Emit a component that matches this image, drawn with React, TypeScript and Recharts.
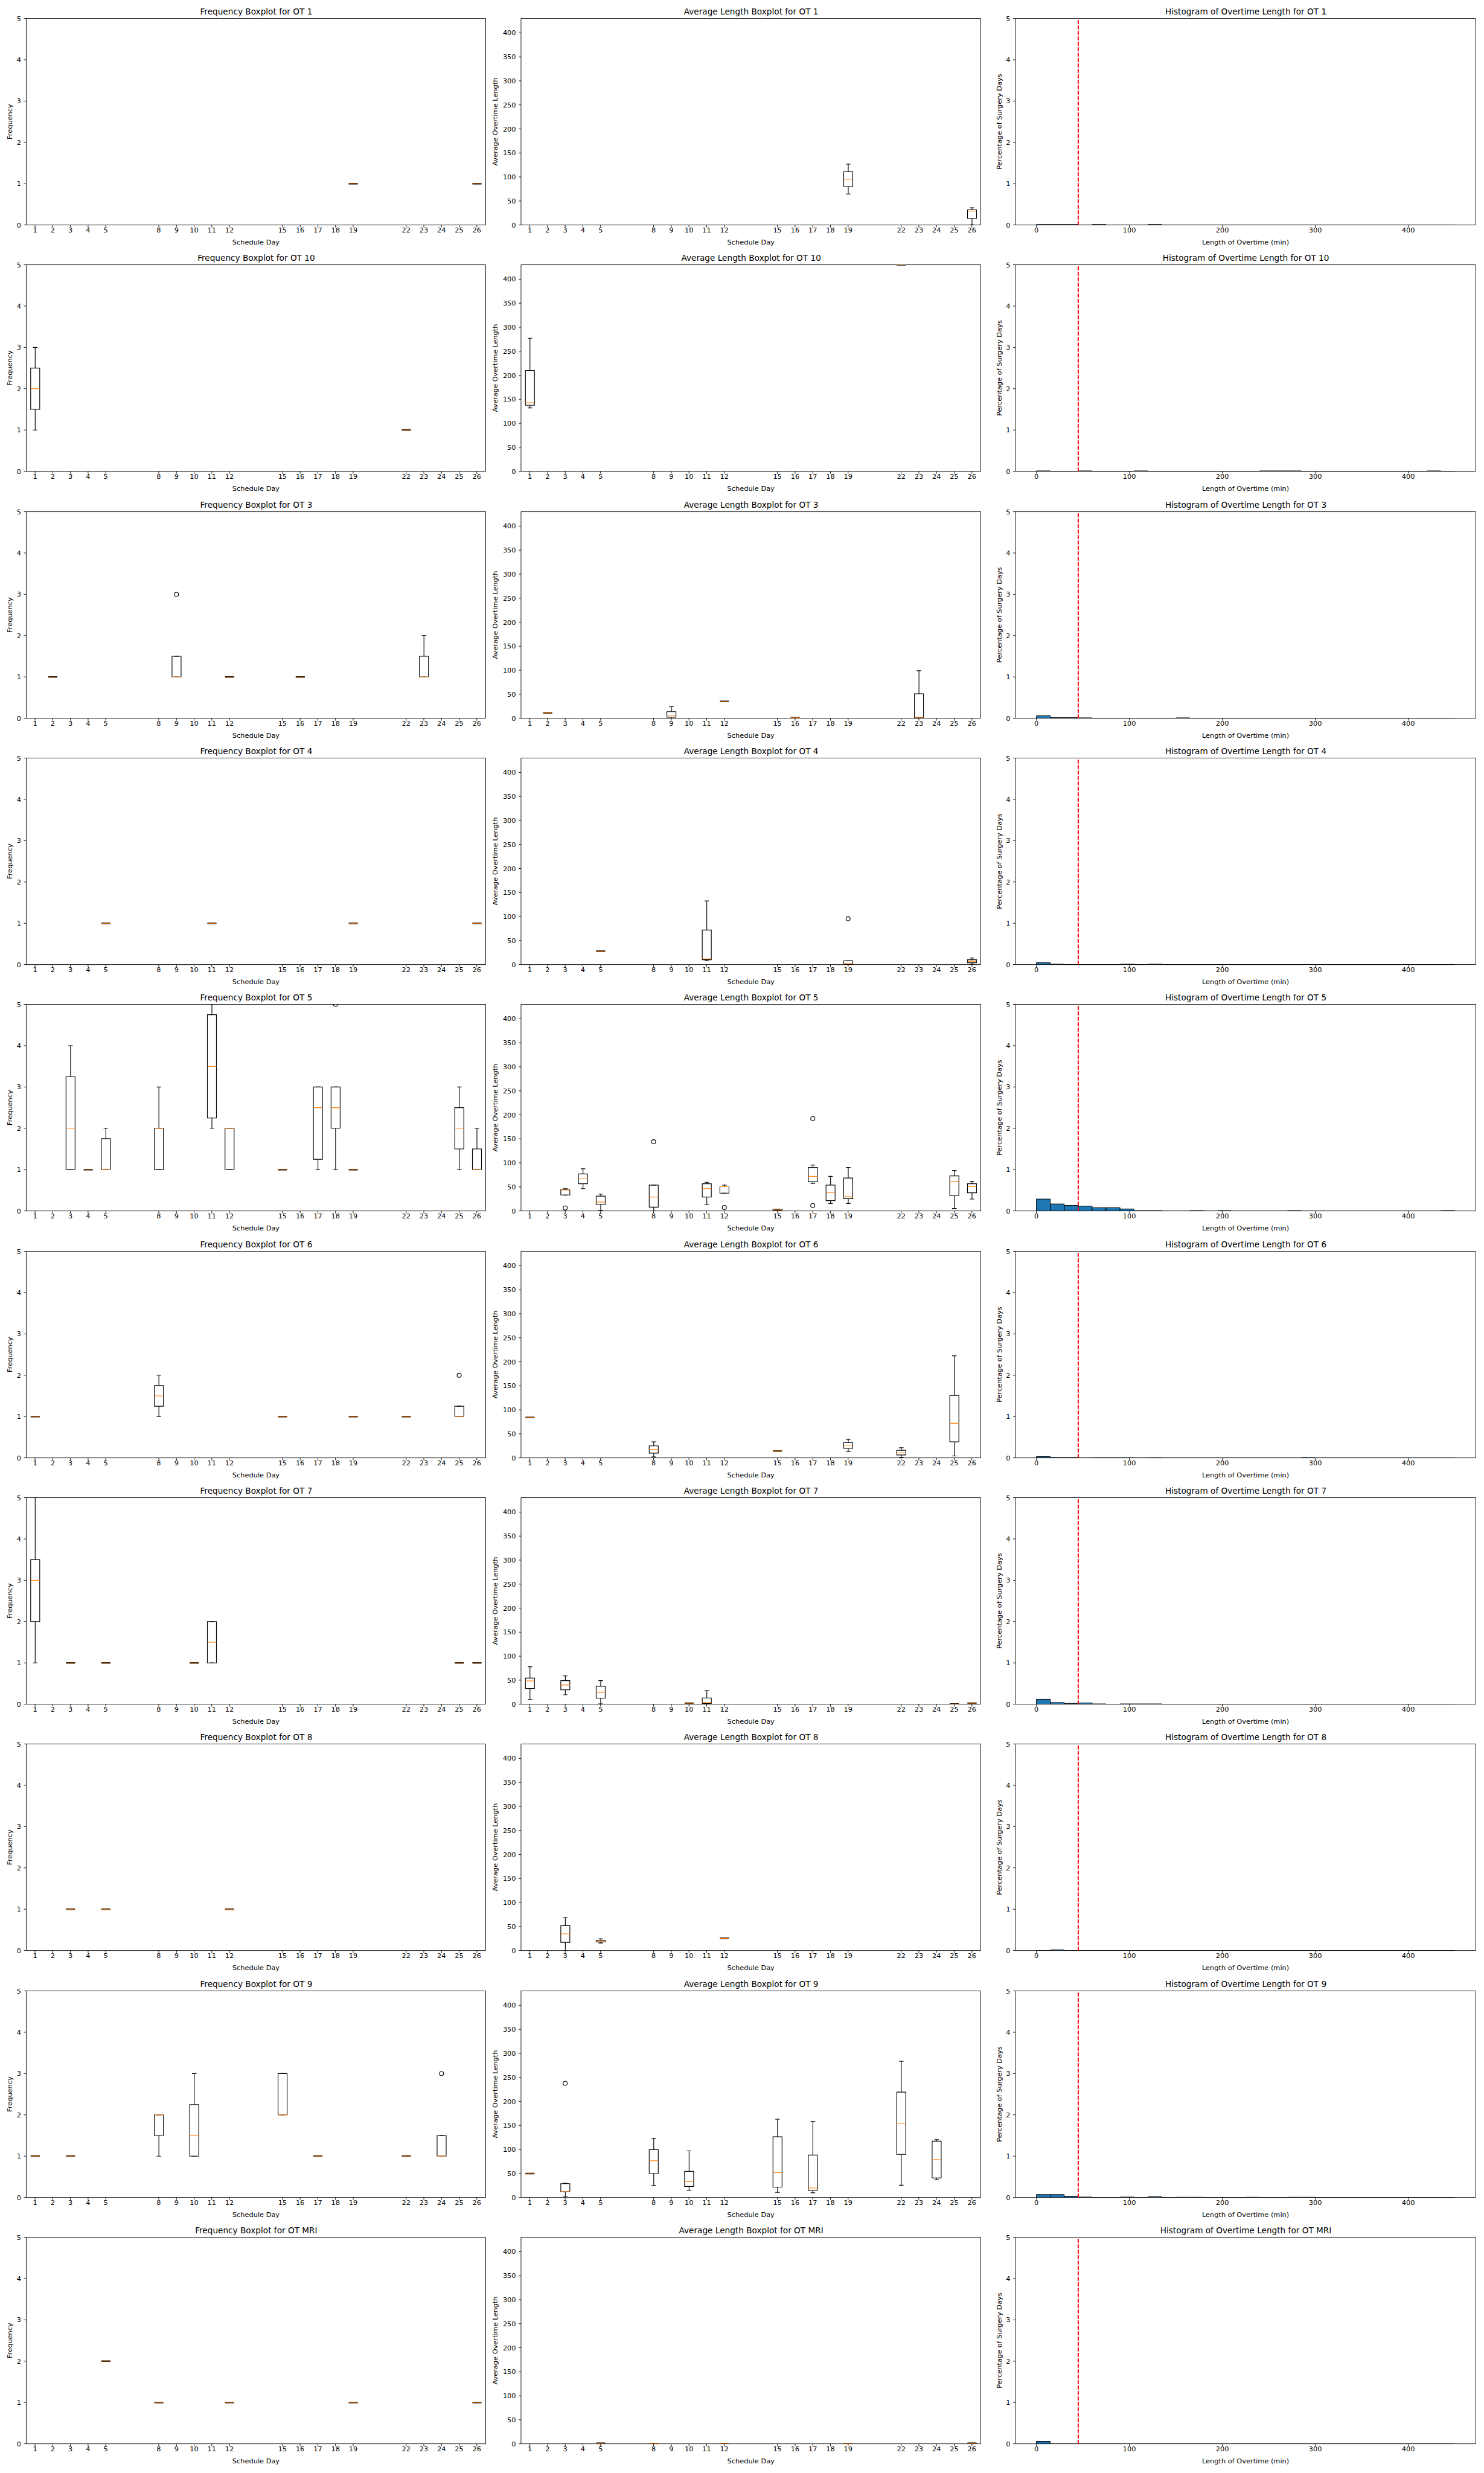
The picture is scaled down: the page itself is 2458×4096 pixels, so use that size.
import React from "react";
import {
  ComposedChart,
  Bar,
  Scatter,
  XAxis,
  YAxis,
  ReferenceArea,
  ReferenceLine,
} from "recharts";

const S = 0.819;
const FONT = "'DejaVu Sans', sans-serif";
const ORANGE = "#ff7f0e";
const BLUE = "#1f77b4";

const scheduleDays = [1, 2, 3, 4, 5, 8, 9, 10, 11, 12, 15, 16, 17, 18, 19, 22, 23, 24, 25, 26];
const freqTicks = [0, 1, 2, 3, 4, 5];
const lengthTicks = [0, 50, 100, 150, 200, 250, 300, 350, 400];
const histXTicks = [0, 100, 200, 300, 400];
const histYTicks = [0, 1, 2, 3, 4, 5];
const binWidth = 15;
const overtimeThreshold = 45;
const rooms = ["1", "10", "3", "4", "5", "6", "7", "8", "9", "MRI"];

// box rows: [day, whiskerLow, q1, median, q3, whiskerHigh]; outliers: [day, value]
const ot1Freq = [[19, 1, 1, 1, 1, 1], [26, 1, 1, 1, 1, 1]];
const ot1FreqOut = [];
const ot1Len = [[19, 64.5, 80, 95.4, 110.8, 126.6], [26, 0.5, 13.7, 28.8, 31.6, 36]];
const ot1LenOut = [];
const ot1Hist = [0.012, 0.012, 0.012, 0, 0.012, 0, 0, 0, 0.012, 0, 0, 0, 0, 0, 0, 0, 0, 0, 0, 0, 0, 0, 0, 0, 0, 0, 0, 0, 0, 0];

const ot10Freq = [[1, 1, 1.5, 2, 2.5, 3], [22, 1, 1, 1, 1, 1]];
const ot10FreqOut = [];
const ot10Len = [[1, 132, 137.5, 142.7, 210, 277], [22, 430, 430, 430, 430, 430]];
const ot10LenOut = [];
const ot10Hist = [0.01, 0, 0, 0.01, 0, 0, 0, 0.01, 0, 0, 0, 0, 0, 0, 0, 0, 0.01, 0.01, 0.01, 0, 0, 0, 0, 0, 0, 0, 0, 0, 0.01, 0];

const ot3Freq = [[2, 1, 1, 1, 1, 1], [9, 1, 1, 1, 1.5, 1.5], [12, 1, 1, 1, 1, 1], [16, 1, 1, 1, 1, 1], [23, 1, 1, 1, 1.5, 2]];
const ot3FreqOut = [[9, 3]];
const ot3Len = [[2, 11, 11, 11, 11, 11], [9, 0, 2, 6.5, 13.7, 24], [12, 35, 35, 35, 35, 35], [16, 1, 1, 1, 1, 1], [23, 0, 1, 2, 51, 99]];
const ot3LenOut = [];
const ot3Hist = [0.06, 0.015, 0.015, 0.01, 0, 0, 0, 0, 0, 0, 0.01, 0, 0, 0, 0, 0, 0, 0, 0, 0, 0, 0, 0, 0, 0, 0, 0, 0, 0, 0];

const ot4Freq = [[5, 1, 1, 1, 1, 1], [11, 1, 1, 1, 1, 1], [19, 1, 1, 1, 1, 1], [26, 1, 1, 1, 1, 1]];
const ot4FreqOut = [];
const ot4Len = [[5, 27.7, 27.7, 27.7, 27.7, 27.7], [11, 8, 10, 11.6, 72, 132.6], [19, 0, 0, 2.7, 8, 8], [26, 0.7, 3.8, 7, 10, 13.7]];
const ot4LenOut = [[19, 95.4]];
const ot4Hist = [0.05, 0.01, 0, 0, 0, 0, 0.01, 0, 0.01, 0, 0, 0, 0, 0, 0, 0, 0, 0, 0, 0, 0, 0, 0, 0, 0, 0, 0, 0, 0, 0];

const ot5Freq = [
  [3, 1, 1, 2, 3.25, 4], [4, 1, 1, 1, 1, 1], [5, 1, 1, 1, 1.75, 2], [8, 1, 1, 2, 2, 3],
  [11, 2, 2.25, 3.5, 4.75, 5], [12, 1, 1, 2, 2, 2], [15, 1, 1, 1, 1, 1], [17, 1, 1.25, 2.5, 3, 3],
  [18, 1, 2, 2.5, 3, 3], [19, 1, 1, 1, 1, 1], [25, 1, 1.5, 2, 2.5, 3], [26, 1, 1, 1, 1.5, 2],
];
const ot5FreqOut = [[18, 5]];
const ot5Len = [
  [3, 33, 33.2, 43.5, 44.2, 46.3], [4, 46.3, 56.6, 66.8, 77, 87.7], [5, 1, 13.4, 18.5, 30.8, 35],
  [8, 0, 7.9, 28.8, 53.8, 53.8], [11, 13.4, 28.8, 46.3, 56.6, 59.6], [12, 37, 37, 50.4, 50.4, 53.8],
  [15, 1, 1, 2, 3.4, 3.4], [17, 57.2, 60.7, 72, 90.5, 95.6], [18, 15.4, 21.3, 38.7, 53.8, 72],
  [19, 15.4, 25.4, 29.5, 68.6, 90.5], [25, 5.1, 31.9, 61.7, 73, 84.3], [26, 24.7, 37.7, 50.4, 56.6, 61.7],
];
const ot5LenOut = [[3, 6.2], [8, 144], [12, 7.2], [17, 192.3], [17, 11.3]];
const ot5Hist = [0.287, 0.168, 0.132, 0.116, 0.08, 0.08, 0.048, 0.008, 0.008, 0, 0, 0.008, 0, 0.008, 0, 0, 0, 0, 0.008, 0, 0, 0, 0, 0, 0, 0, 0, 0, 0, 0.008];

const ot6Freq = [[1, 1, 1, 1, 1, 1], [8, 1, 1.25, 1.5, 1.75, 2], [15, 1, 1, 1, 1, 1], [19, 1, 1, 1, 1, 1], [22, 1, 1, 1, 1, 1], [25, 1, 1, 1, 1.25, 1.25]];
const ot6FreqOut = [[25, 2]];
const ot6Len = [[1, 84, 84, 84, 84, 84], [8, 2, 9.8, 17.7, 25, 33.4], [15, 14.4, 14.4, 14.4, 14.4, 14.4], [19, 13.1, 19.7, 26.2, 32, 38.7], [22, 1.3, 5.9, 10.5, 15.7, 21], [25, 4, 33.4, 72, 130, 212.5]];
const ot6LenOut = [];
const ot6Hist = [0.03, 0.01, 0.01, 0, 0.005, 0.005, 0.005, 0, 0.005, 0, 0, 0, 0, 0, 0, 0, 0, 0, 0, 0.008, 0, 0, 0, 0, 0, 0, 0, 0, 0, 0];

const ot7Freq = [[1, 1, 2, 3, 3.5, 5], [3, 1, 1, 1, 1, 1], [5, 1, 1, 1, 1, 1], [10, 1, 1, 1, 1, 1], [11, 1, 1, 1.5, 2, 2], [25, 1, 1, 1, 1, 1], [26, 1, 1, 1, 1, 1]];
const ot7FreqOut = [];
const ot7Len = [[1, 9.8, 32.7, 48.4, 54.3, 78], [3, 19.6, 30, 40, 49, 59], [5, 0.7, 12.4, 24.9, 37.3, 49], [10, 2, 2, 2, 2, 2], [11, 0, 1.3, 4, 13, 28], [25, 0.5, 0.5, 0.5, 0.5, 0.5], [26, 2, 2, 2, 2, 2]];
const ot7LenOut = [];
const ot7Hist = [0.12, 0.04, 0.02, 0.03, 0.008, 0, 0.008, 0.008, 0.008, 0, 0, 0, 0, 0, 0, 0, 0, 0, 0, 0, 0, 0, 0, 0, 0, 0, 0, 0, 0, 0];

const ot8Freq = [[3, 1, 1, 1, 1, 1], [5, 1, 1, 1, 1, 1], [12, 1, 1, 1, 1, 1]];
const ot8FreqOut = [];
const ot8Len = [[3, 0, 17, 34.7, 51.7, 68.7], [5, 15.7, 17.7, 19.6, 21.6, 24.2], [12, 25.5, 25.5, 25.5, 25.5, 25.5]];
const ot8LenOut = [];
const ot8Hist = [0, 0.015, 0, 0, 0, 0, 0, 0, 0, 0, 0, 0, 0, 0, 0, 0, 0, 0, 0, 0, 0, 0, 0, 0, 0, 0, 0, 0, 0, 0];

const ot9Freq = [[1, 1, 1, 1, 1, 1], [3, 1, 1, 1, 1, 1], [8, 1, 1.5, 2, 2, 2], [10, 1, 1, 1.5, 2.25, 3], [15, 2, 2, 2, 3, 3], [17, 1, 1, 1, 1, 1], [22, 1, 1, 1, 1, 1], [24, 1, 1, 1, 1.5, 1.5]];
const ot9FreqOut = [[24, 3]];
const ot9Len = [
  [1, 49.8, 49.8, 49.8, 49.8, 49.8], [3, 2, 11.8, 12.4, 28.8, 29.5], [8, 24.9, 49.8, 76.6, 99.5, 123],
  [10, 15.1, 22.9, 33.4, 54.3, 96.9], [15, 10.5, 21.6, 51.7, 126.4, 163], [17, 9.8, 15.1, 19.6, 88.4, 158.4],
  [22, 25.5, 89.7, 154.5, 219.3, 283.5], [24, 37.3, 40.6, 78.6, 117.2, 120.5],
];
const ot9LenOut = [[3, 237.6]];
const ot9Hist = [0.07, 0.07, 0.03, 0.01, 0, 0, 0.01, 0, 0.02, 0, 0.005, 0.005, 0, 0, 0, 0.005, 0, 0, 0.005, 0.005, 0, 0, 0, 0, 0, 0, 0, 0, 0, 0];

const otMriFreq = [[5, 2, 2, 2, 2, 2], [8, 1, 1, 1, 1, 1], [12, 1, 1, 1, 1, 1], [19, 1, 1, 1, 1, 1], [26, 1, 1, 1, 1, 1]];
const otMriFreqOut = [];
const otMriLen = [[5, 1, 1, 1, 1, 1], [8, 0.3, 0.3, 0.3, 0.3, 0.3], [12, 0.3, 0.3, 0.3, 0.3, 0.3], [19, 0.3, 0.3, 0.3, 0.3, 0.3], [26, 1, 1, 1, 1, 1]];
const otMriLenOut = [];
const otMriHist = [0.06, 0, 0, 0, 0, 0, 0, 0, 0, 0, 0, 0, 0, 0, 0, 0, 0, 0, 0, 0, 0, 0, 0, 0, 0, 0, 0, 0, 0, 0];

const roomSeries = [
  { freq: ot1Freq, freqOut: ot1FreqOut, len: ot1Len, lenOut: ot1LenOut, hist: ot1Hist },
  { freq: ot10Freq, freqOut: ot10FreqOut, len: ot10Len, lenOut: ot10LenOut, hist: ot10Hist },
  { freq: ot3Freq, freqOut: ot3FreqOut, len: ot3Len, lenOut: ot3LenOut, hist: ot3Hist },
  { freq: ot4Freq, freqOut: ot4FreqOut, len: ot4Len, lenOut: ot4LenOut, hist: ot4Hist },
  { freq: ot5Freq, freqOut: ot5FreqOut, len: ot5Len, lenOut: ot5LenOut, hist: ot5Hist },
  { freq: ot6Freq, freqOut: ot6FreqOut, len: ot6Len, lenOut: ot6LenOut, hist: ot6Hist },
  { freq: ot7Freq, freqOut: ot7FreqOut, len: ot7Len, lenOut: ot7LenOut, hist: ot7Hist },
  { freq: ot8Freq, freqOut: ot8FreqOut, len: ot8Len, lenOut: ot8LenOut, hist: ot8Hist },
  { freq: ot9Freq, freqOut: ot9FreqOut, len: ot9Len, lenOut: ot9LenOut, hist: ot9Hist },
  { freq: otMriFreq, freqOut: otMriFreqOut, len: otMriLen, lenOut: otMriLenOut, hist: otMriHist },
];

// layout (reference px * S)
const BOX_W = 1030 * S;
const BOX_H = 498.6 * S;
const PLOT_TOP = 37.3 * S;
const PLOT_H = 417.7 * S;
const PLOT_LEFT = [83.6 * S, 84.2 * S, 84.2 * S];
const PLOT_RIGHT = [1012.8 * S, 1014 * S, 1015 * S];
const YLABEL_GAP = [28.9 * S, 47.6 * S, 28.5 * S];
const Y_AXIS_W = 40;
const X_AXIS_H = 20;
const TITLE_FS = 16.67 * S;
const TICK_FS = 13.89 * S;
const LW = 1.39 * S;
const SPINE = 1.11 * S;

function BoxShape(props: any) {
  const { x, y, width, height, payload } = props;
  if (!payload || payload.lo == null || !Number.isFinite(y) || !Number.isFinite(x)) return <g />;
  const top = Math.min(y, y + height);
  const bottom = Math.max(y, y + height);
  const { lo, q1, med, q3, hi } = payload;
  const cx = x + width / 2;
  if (hi - lo < 1e-9) {
    return (
      <g>
        <line x1={x} x2={x + width} y1={top} y2={top} stroke="#000" strokeWidth={2.6} />
        <line x1={x} x2={x + width} y1={top} y2={top} stroke={ORANGE} strokeWidth={LW} />
      </g>
    );
  }
  const py = (v: number) => bottom - ((v - lo) / (hi - lo)) * (bottom - top);
  const capHalf = width / 4;
  const yq1 = py(q1);
  const yq3 = py(q3);
  const ym = py(med);
  return (
    <g stroke="#000" strokeWidth={LW} fill="none">
      <line x1={cx} x2={cx} y1={top} y2={yq3} />
      <line x1={cx} x2={cx} y1={yq1} y2={bottom} />
      <line x1={cx - capHalf} x2={cx + capHalf} y1={top} y2={top} />
      <line x1={cx - capHalf} x2={cx + capHalf} y1={bottom} y2={bottom} />
      <path d={`M${x},${yq1}H${x + width}V${yq3}H${x}Z`} />
      <line x1={x} x2={x + width} y1={ym} y2={ym} stroke={ORANGE} />
    </g>
  );
}

function OutlierShape(props: any) {
  const { cx, cy } = props;
  if (!Number.isFinite(cx) || !Number.isFinite(cy)) return <g />;
  return <circle cx={cx} cy={cy} r={4.17 * S} fill="none" stroke="#000" strokeWidth={LW} />;
}

function HistShape(props: any) {
  const { x, y, width, height } = props;
  if (!Number.isFinite(x) || !Number.isFinite(y)) return <g />;
  const top = Math.min(y, y + height);
  const bot = Math.max(y, y + height);
  return <path d={`M${x},${bot}V${top}H${x + width}V${bot}Z`} fill={BLUE} stroke="#000" strokeWidth={1} />;
}

function PanelFrame({ row, col, title, children }: any) {
  const plotW = PLOT_RIGHT[col] - PLOT_LEFT[col];
  return (
    <div
      style={{
        position: "absolute",
        left: col * 1000 * S - 30 * S,
        top: row * BOX_H,
        width: BOX_W,
        height: BOX_H,
      }}
    >
      <div
        style={{
          position: "absolute",
          left: PLOT_LEFT[col] + plotW / 2 - 250,
          width: 500,
          textAlign: "center",
          top: PLOT_TOP - 8.2 * S - 0.946 * TITLE_FS,
          fontSize: TITLE_FS,
          lineHeight: `${TITLE_FS * 1.2}px`,
          color: "#000",
          whiteSpace: "nowrap",
        }}
      >
        {title}
      </div>
      {children}
    </div>
  );
}

function axisLabels(col: number, yText: string, xText: string) {
  const plotW = PLOT_RIGHT[col] - PLOT_LEFT[col];
  const lx = PLOT_LEFT[col] - YLABEL_GAP[col];
  const cy = PLOT_TOP + PLOT_H / 2;
  const yLab = () => (
    <text x={lx} y={cy} transform={`rotate(-90 ${lx} ${cy})`} textAnchor="middle" fontSize={TICK_FS} fill="#000">
      {yText}
    </text>
  );
  const xLab = () => (
    <text x={PLOT_LEFT[col] + plotW / 2} y={PLOT_TOP + PLOT_H + 39.3 * S} textAnchor="middle" fontSize={TICK_FS} fill="#000">
      {xText}
    </text>
  );
  return { yLab, xLab };
}

function chartMargin(col: number) {
  return {
    top: PLOT_TOP,
    left: PLOT_LEFT[col] - Y_AXIS_W,
    right: BOX_W - PLOT_RIGHT[col],
    bottom: BOX_H - PLOT_TOP - PLOT_H - X_AXIS_H,
  };
}

const tickStyle = { fontSize: TICK_FS, fill: "#000" };
const tickLineStyle = { stroke: "#000", strokeWidth: SPINE };

function BoxPanel({ row, col, title, boxes, outliers, yDomain, yTicks, yText }: any) {
  const data = scheduleDays.map((day) => {
    const b = boxes.find((r: number[]) => r[0] === day);
    return b
      ? { day, lo: b[1], q1: b[2], med: b[3], q3: b[4], hi: b[5] }
      : { day, lo: null, q1: null, med: null, q3: null, hi: null };
  });
  const outRows = outliers.map((o: number[]) => ({ day: o[0], val: o[1] }));
  const { yLab, xLab } = axisLabels(col, yText, "Schedule Day");
  return (
    <PanelFrame row={row} col={col} title={title}>
      <ComposedChart width={BOX_W} height={BOX_H} data={data} margin={chartMargin(col)} barCategoryGap="25%">
        <XAxis
          type="number"
          dataKey="day"
          domain={[0.5, 26.5]}
          ticks={scheduleDays}
          interval={0}
          allowDataOverflow
          height={X_AXIS_H}
          tickSize={3.98}
          tickMargin={0.3}
          tick={tickStyle}
          tickLine={tickLineStyle}
          axisLine={false}
          label={xLab}
        />
        <YAxis
          type="number"
          domain={yDomain}
          ticks={yTicks}
          interval={0}
          allowDataOverflow
          width={Y_AXIS_W}
          tickSize={3.98}
          tickMargin={4.4}
          tick={tickStyle}
          tickLine={tickLineStyle}
          axisLine={false}
          label={yLab}
        />
        <ReferenceArea
          x1={0.5}
          x2={26.5}
          y1={yDomain[0]}
          y2={yDomain[1]}
          fill="none"
          stroke="#000"
          strokeWidth={SPINE}
          ifOverflow="visible"
        />
        <Bar
          dataKey={(d: any) => (d.lo == null ? null : [d.lo, d.hi])}
          shape={BoxShape}
          isAnimationActive={false}
        />
        <Scatter data={outRows} dataKey="val" shape={OutlierShape} isAnimationActive={false} />
      </ComposedChart>
    </PanelFrame>
  );
}

function HistPanel({ row, title, hist }: any) {
  const col = 2;
  const data = hist.map((v: number, i: number) => ({ x: i * binWidth + binWidth / 2, v }));
  const { yLab, xLab } = axisLabels(col, "Percentage of Surgery Days", "Length of Overtime (min)");
  return (
    <PanelFrame row={row} col={col} title={title}>
      <ComposedChart width={BOX_W} height={BOX_H} data={data} margin={chartMargin(col)} barCategoryGap={0} barGap={0}>
        <XAxis
          type="number"
          dataKey="x"
          domain={[-22.5, 472.5]}
          ticks={histXTicks}
          interval={0}
          allowDataOverflow
          height={X_AXIS_H}
          tickSize={3.98}
          tickMargin={0.3}
          tick={tickStyle}
          tickLine={tickLineStyle}
          axisLine={false}
          label={xLab}
        />
        <YAxis
          type="number"
          domain={[0, 5]}
          ticks={histYTicks}
          interval={0}
          allowDataOverflow
          width={Y_AXIS_W}
          tickSize={3.98}
          tickMargin={4.4}
          tick={tickStyle}
          tickLine={tickLineStyle}
          axisLine={false}
          label={yLab}
        />
        <ReferenceArea x1={-22.5} x2={472.5} y1={0} y2={5} fill="none" stroke="#000" strokeWidth={SPINE} ifOverflow="visible" />
        <Bar dataKey="v" shape={HistShape} isAnimationActive={false} />
        <ReferenceLine x={overtimeThreshold} stroke="#ff0000" strokeDasharray="6.3 2.7" strokeWidth={2} />
      </ComposedChart>
    </PanelFrame>
  );
}

export default function App() {
  return (
    <div
      style={{
        position: "absolute",
        left: 0,
        top: 0,
        width: 2458,
        height: 4096,
        background: "#fff",
        overflow: "hidden",
        fontFamily: FONT,
      }}
    >
      {rooms.map((room, r) => {
        const s = roomSeries[r];
        return (
          <React.Fragment key={room}>
            <BoxPanel
              row={r}
              col={0}
              title={`Frequency Boxplot for OT ${room}`}
              boxes={s.freq}
              outliers={s.freqOut}
              yDomain={[0, 5]}
              yTicks={freqTicks}
              yText="Frequency"
            />
            <BoxPanel
              row={r}
              col={1}
              title={`Average Length Boxplot for OT ${room}`}
              boxes={s.len}
              outliers={s.lenOut}
              yDomain={[0, 430]}
              yTicks={lengthTicks}
              yText="Average Overtime Length"
            />
            <HistPanel row={r} title={`Histogram of Overtime Length for OT ${room}`} hist={s.hist} />
          </React.Fragment>
        );
      })}
    </div>
  );
}
